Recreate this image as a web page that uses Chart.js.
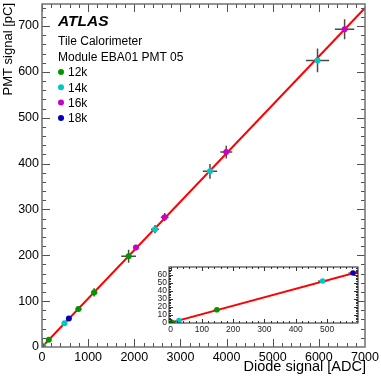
<!DOCTYPE html>
<html>
<head>
<meta charset="utf-8">
<script src="https://cdn.jsdelivr.net/npm/chart.js@4.4.1/dist/chart.umd.min.js"></script>
<style>
  html, body { margin: 0; padding: 0; background: #fff; overflow: hidden; }
  #wrap { position: relative; width: 381px; height: 381px; }
  #mainChart { position: absolute; left: 0; top: 0; }
  #insetChart { position: absolute; left: 140px; top: 255px; }
</style>
</head>
<body>
<div id="wrap">
  <canvas id="mainChart" width="381" height="381"></canvas>
  <canvas id="insetChart" width="230" height="90"></canvas>
</div>
<script>
// measurements per HV setting: diode signal [ADC] vs PMT signal [pC], with errors
const labels = ["12k", "14k", "16k", "18k"];
const colors = ["rgb(0,150,0)", "rgb(0,200,200)", "rgb(200,0,200)", "rgb(0,0,190)"];

const diode12k = [4, 148, 790, 1130, 1877];
const pmt12k = [0.5, 16, 83, 119, 198];
const diodeErr12k = [2, 10, 65, 70, 160];
const pmtErr12k = [0.3, 1, 6.5, 9, 14];

const diode14k = [27, 486, 2449, 3640, 5971];
const pmt14k = [2.5, 52, 257, 383, 625];
const diodeErr14k = [3, 15, 85, 155, 250];
const pmtErr14k = [0.4, 1.5, 9, 16, 26];

const diode16k = [2036, 2659, 3993, 6558];
const pmt16k = [217, 283, 425, 693];
const diodeErr16k = [60, 85, 130, 210];
const pmtErr16k = [6, 9, 14, 22];

const diode18k = [583];
const pmt18k = [62];
const diodeErr18k = [15];
const pmtErr18k = [1.5];

// linear fit
const fitSlope = 0.1056;
const fitIntercept = 0;

// axis ranges and tick labels
const mainX = [0, 7000], mainY = [0, 748];
const insetX = [-5, 599], insetY = [-0.5, 69.5];
const mainXTicks = [0, 1000, 2000, 3000, 4000, 5000, 6000, 7000];
const mainYTicks = [0, 100, 200, 300, 400, 500, 600, 700];
const insetXTicks = [0, 100, 200, 300, 400, 500];
const insetYTicks = [0, 10, 20, 30, 40, 50, 60];

const headerLines = ["Tile Calorimeter", "Module EBA01 PMT 05"];

Chart.defaults.font.family = "'Liberation Sans', Arial, Helvetica, sans-serif";
Chart.defaults.color = "#000";

const series = [
  [diode12k, pmt12k, diodeErr12k, pmtErr12k],
  [diode14k, pmt14k, diodeErr14k, pmtErr14k],
  [diode16k, pmt16k, diodeErr16k, pmtErr16k],
  [diode18k, pmt18k, diodeErr18k, pmtErr18k],
];

function buildDatasets(xr, radius) {
  const sets = series.map((s, i) => ({
    label: labels[i],
    data: s[0].map((v, k) => ({ x: v, y: s[1][k], ex: s[2][k], ey: s[3][k] }))
      .filter(p => p.x <= xr[1]),
    backgroundColor: colors[i],
    borderColor: colors[i],
    pointRadius: radius,
    pointBorderWidth: 0,
    order: 1,
  }));
  sets.push({
    label: "fit",
    data: [xr[0] < 0 ? 0 : xr[0], xr[1]].map(v => ({ x: v, y: fitSlope * v + fitIntercept })),
    showLine: true,
    borderColor: "rgb(255,0,0)",
    borderWidth: 2,
    pointRadius: 0,
    order: 10,
    noErr: true,
  });
  return sets;
}

// error crosses, drawn behind the markers
const errorBars = {
  id: "errorBars",
  beforeDatasetsDraw(chart, args, opts) {
    const { ctx, scales: { x, y } } = chart;
    ctx.save();
    ctx.strokeStyle = opts.color;
    ctx.lineWidth = opts.width;
    ctx.beginPath();
    chart.data.datasets.forEach(ds => {
      if (ds.noErr) return;
      ds.data.forEach(p => {
        const px = x.getPixelForValue(p.x), py = y.getPixelForValue(p.y);
        ctx.moveTo(x.getPixelForValue(p.x - p.ex), py);
        ctx.lineTo(x.getPixelForValue(p.x + p.ex), py);
        ctx.moveTo(px, y.getPixelForValue(p.y - p.ey));
        ctx.lineTo(px, y.getPixelForValue(p.y + p.ey));
      });
    });
    ctx.stroke();
    ctx.restore();
  }
};

// ROOT style frame with inward ticks on all four sides
const rootFrame = {
  id: "rootFrame",
  beforeDraw(chart, args, opts) {
    if (!opts.fill) return;
    const a = chart.chartArea;
    chart.ctx.save();
    chart.ctx.fillStyle = opts.fill;
    chart.ctx.fillRect(a.left, a.top, a.right - a.left, a.bottom - a.top);
    chart.ctx.restore();
  },
  afterDraw(chart, args, o) {
    const { ctx, chartArea: a, scales: { x, y } } = chart;
    ctx.save();
    ctx.strokeStyle = o.tickColor;
    ctx.lineWidth = 1;
    ctx.beginPath();
    const isMajor = (v, step) => Math.abs(v / step - Math.round(v / step)) < 1e-6;
    for (let v = 0; v <= x.max + 1e-9; v += o.xMinor) {
      const px = Math.round(x.getPixelForValue(v)) + 0.5;
      if (px < a.left || px > a.right) continue;
      const len = isMajor(v, o.xMajor) ? o.majorLen : o.minorLen;
      ctx.moveTo(px, a.bottom); ctx.lineTo(px, a.bottom - len);
      ctx.moveTo(px, a.top); ctx.lineTo(px, a.top + len);
    }
    for (let v = 0; v <= y.max + 1e-9; v += o.yMinor) {
      const py = Math.round(y.getPixelForValue(v)) + 0.5;
      if (py < a.top || py > a.bottom) continue;
      const len = isMajor(v, o.yMajor) ? o.majorLen : o.minorLen;
      ctx.moveTo(a.left, py); ctx.lineTo(a.left + len, py);
      ctx.moveTo(a.right, py); ctx.lineTo(a.right - len, py);
    }
    ctx.stroke();
    ctx.strokeStyle = o.frameColor;
    ctx.lineWidth = o.frameWidth;
    ctx.strokeRect(a.left, a.top, a.right - a.left, a.bottom - a.top);
    ctx.restore();
  }
};

// labels, header and axis titles of the main pad
const mainText = {
  id: "mainText",
  afterDraw(chart) {
    const { ctx, chartArea: a } = chart;
    ctx.save();
    ctx.fillStyle = "#000";
    ctx.textAlign = "left";
    ctx.textBaseline = "alphabetic";
    ctx.font = "italic bold 15.5px 'Liberation Sans', Arial, sans-serif";
    ctx.fillText("ATLAS", 58, 26);
    ctx.font = "12px 'Liberation Sans', Arial, sans-serif";
    ctx.fillText(headerLines[0], 58, 44.5);
    ctx.fillText(headerLines[1], 58, 61);
    labels.forEach((l, i) => {
      const yy = 72 + i * 15.3;
      ctx.fillStyle = colors[i];
      ctx.beginPath();
      ctx.arc(61, yy, 3, 0, Math.PI * 2);
      ctx.fill();
      ctx.fillStyle = "#000";
      ctx.fillText(l, 68, yy + 4.3);
    });
    // axis titles, right aligned like ROOT
    ctx.font = "14.5px 'Liberation Sans', Arial, sans-serif";
    ctx.textAlign = "right";
    ctx.fillText("Diode signal [ADC]", a.right + 1, 371);
    ctx.font = "13px 'Liberation Sans', Arial, sans-serif";
    ctx.translate(12, a.top - 1);
    ctx.rotate(-Math.PI / 2);
    ctx.fillText("PMT signal [pC]", 0, 0);
    ctx.restore();
  }
};

function axis(range, tickValues, size, pad, fontSize, color, horizontal) {
  return {
    type: "linear", min: range[0], max: range[1],
    grid: { display: false, drawTicks: false }, border: { display: false },
    ticks: { autoSkip: false, maxRotation: 0, padding: pad, font: { size: fontSize }, color: color,
      callback: v => String(v) },
    afterBuildTicks: s => { s.ticks = tickValues.map(v => ({ value: v })); },
    afterFit: s => {
      if (horizontal) { s.height = size; s.paddingLeft = 0; s.paddingRight = 0; }
      else { s.width = size; s.paddingTop = 0; s.paddingBottom = 0; }
    },
  };
}

const mainChart = new Chart(document.getElementById("mainChart"), {
  type: "scatter",
  data: { datasets: buildDatasets(mainX, 3) },
  options: {
    responsive: false,
    devicePixelRatio: 1,
    animation: false,
    layout: { padding: { left: 0, right: 16, top: 3, bottom: 0 } },
    plugins: {
      legend: { display: false },
      tooltip: { enabled: false },
      errorBars: { color: "#4a4a4a", width: 1.5 },
      rootFrame: { xMajor: 1000, xMinor: 200, yMajor: 100, yMinor: 20, majorLen: 8, minorLen: 4,
        tickColor: "#505050", frameColor: "#707070", frameWidth: 1.5 },
    },
    scales: {
      x: axis(mainX, mainXTicks, 34, 3, 12.5, "#000", true),
      y: axis(mainY, mainYTicks, 42, 3, 12.5, "#000", false),
    },
  },
  plugins: [errorBars, rootFrame, mainText],
});

const insetChart = new Chart(document.getElementById("insetChart"), {
  type: "scatter",
  data: { datasets: buildDatasets(insetX, 2.8) },
  options: {
    responsive: false,
    devicePixelRatio: 1,
    animation: false,
    layout: { padding: { left: 0, right: 12, top: 12, bottom: 0 } },
    plugins: {
      legend: { display: false },
      tooltip: { enabled: false },
      errorBars: { color: "#777", width: 1.5 },
      rootFrame: { fill: "#fff", xMajor: 100, xMinor: 20, yMajor: 10, yMinor: 2, majorLen: 4, minorLen: 2,
        tickColor: "#333", frameColor: "#222", frameWidth: 1 },
    },
    scales: {
      x: axis(insetX, insetXTicks, 22, 2, 8.5, "#222", true),
      y: axis(insetY, insetYTicks, 29, 2, 8.5, "#222", false),
    },
  },
  plugins: [errorBars, rootFrame],
});
</script>
</body>
</html>
